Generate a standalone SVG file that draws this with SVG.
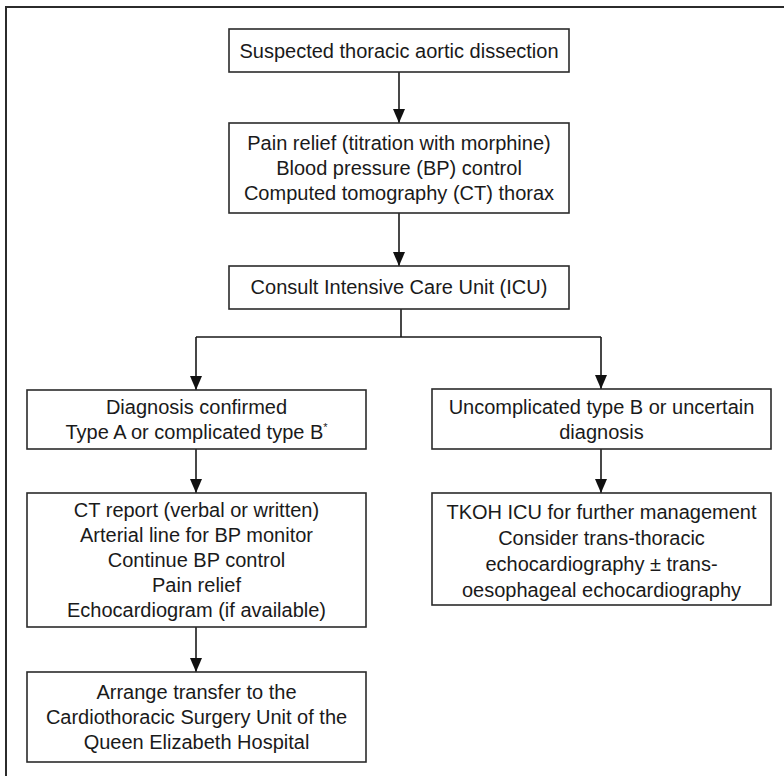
<svg xmlns="http://www.w3.org/2000/svg" width="784" height="776" viewBox="0 0 784 776">
<style>
.box{fill:#fff;stroke:#2b2b2b;stroke-width:1.6}
.t{font-family:"Liberation Sans",Arial,sans-serif;font-size:20px;fill:#1a1a1a;text-anchor:middle}
.c{fill:none;stroke:#1a1a1a;stroke-width:1.6}
</style>
<defs>
<marker id="ah" markerWidth="12" markerHeight="14" refX="6" refY="14" orient="auto-start-reverse" markerUnits="userSpaceOnUse" viewBox="0 0 12 14">
<path d="M0,0 L12,0 L6,14 Z" fill="#111"/>
</marker>
</defs>
<rect width="784" height="776" fill="#fff"/>
<path d="M6,776 V7 H784" fill="none" stroke="#2b2b2b" stroke-width="2"/>
<g id="connectors">
<line class="c" x1="399" y1="72" x2="399" y2="123"/>
<path d="M393,109 L405,109 L399,123 Z" fill="#111"/>
<line class="c" x1="399" y1="213" x2="399" y2="266"/>
<path d="M393,252 L405,252 L399,266 Z" fill="#111"/>
<path class="c" d="M401,309 V337 M196,337 H601 M196,337 V390 M601,337 V389"/>
<path d="M190,376 L202,376 L196,390 Z" fill="#111"/>
<path d="M595,375 L607,375 L601,389 Z" fill="#111"/>
<line class="c" x1="196" y1="449" x2="196" y2="493"/>
<path d="M190,479 L202,479 L196,493 Z" fill="#111"/>
<line class="c" x1="601" y1="449" x2="601" y2="493"/>
<path d="M595,479 L607,479 L601,493 Z" fill="#111"/>
<line class="c" x1="196" y1="627" x2="196" y2="672"/>
<path d="M190,658 L202,658 L196,672 Z" fill="#111"/>
</g>
<g id="n1">
<rect class="box" x="229" y="29" width="340" height="43"/>
<text class="t" x="399" y="58">Suspected thoracic aortic dissection</text>
</g>
<g id="n2">
<rect class="box" x="229" y="123" width="340" height="90"/>
<text class="t" x="399" y="150">Pain relief (titration with morphine)</text>
<text class="t" x="399" y="175">Blood pressure (BP) control</text>
<text class="t" x="399" y="200">Computed tomography (CT) thorax</text>
</g>
<g id="n3">
<rect class="box" x="229" y="266" width="340" height="43"/>
<text class="t" x="399" y="294">Consult Intensive Care Unit (ICU)</text>
</g>
<g id="n4">
<rect class="box" x="27" y="390" width="339" height="59"/>
<text class="t" x="196.5" y="414">Diagnosis confirmed</text>
<text class="t" x="196.5" y="439">Type A or complicated type B<tspan font-size="11" dy="-8">*</tspan></text>
</g>
<g id="n5">
<rect class="box" x="432" y="389" width="339" height="60"/>
<text class="t" x="601.5" y="414">Uncomplicated type B or uncertain</text>
<text class="t" x="601.5" y="439">diagnosis</text>
</g>
<g id="n6">
<rect class="box" x="27" y="493" width="339" height="134"/>
<text class="t" x="196.5" y="517">CT report (verbal or written)</text>
<text class="t" x="196.5" y="542">Arterial line for BP monitor</text>
<text class="t" x="196.5" y="567">Continue BP control</text>
<text class="t" x="196.5" y="592">Pain relief</text>
<text class="t" x="196.5" y="617">Echocardiogram (if available)</text>
</g>
<g id="n7">
<rect class="box" x="432" y="493" width="339" height="112"/>
<text class="t" x="601.5" y="519">TKOH ICU for further management</text>
<text class="t" x="601.5" y="545">Consider trans-thoracic</text>
<text class="t" x="601.5" y="571">echocardiography ± trans-</text>
<text class="t" x="601.5" y="597">oesophageal echocardiography</text>
</g>
<g id="n8">
<rect class="box" x="27" y="672" width="339" height="90"/>
<text class="t" x="196.5" y="699">Arrange transfer to the</text>
<text class="t" x="196.5" y="724">Cardiothoracic Surgery Unit of the</text>
<text class="t" x="196.5" y="749">Queen Elizabeth Hospital</text>
</g>
</svg>
